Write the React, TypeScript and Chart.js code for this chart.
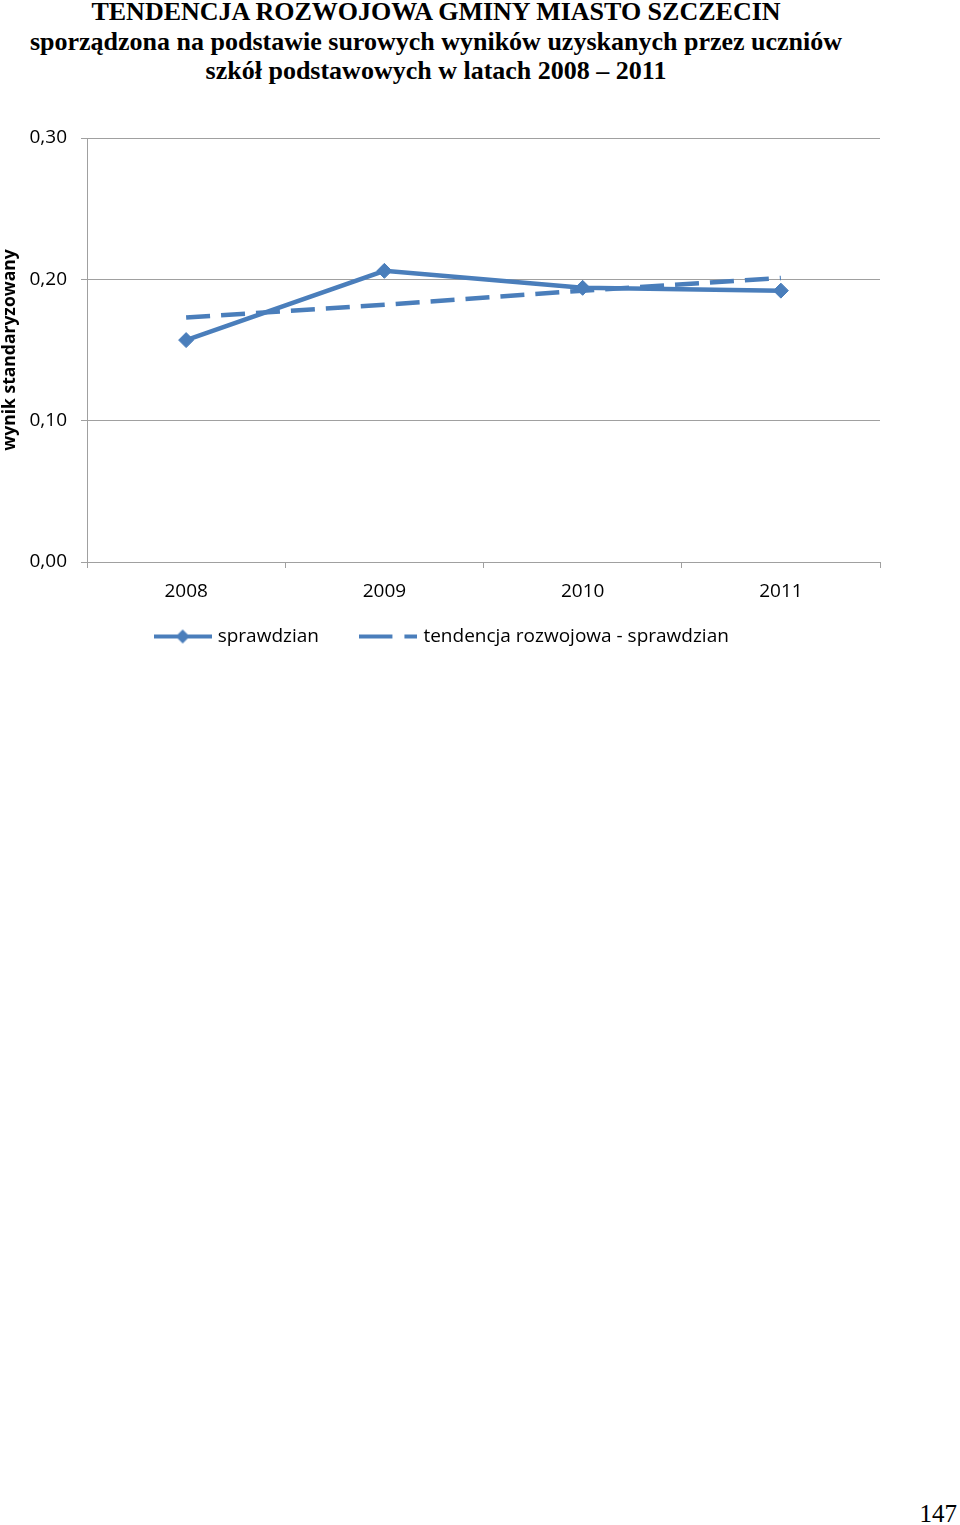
import React, { useEffect, useRef } from "react";
import { Chart, registerables } from "chart.js";

Chart.register(...registerables);

const titleLines = [
  "TENDENCJA ROZWOJOWA GMINY MIASTO SZCZECIN",
  "sporządzona na podstawie surowych wyników uzyskanych przez uczniów",
  "szkół podstawowych w latach 2008 – 2011",
];
const years = ["2008", "2009", "2010", "2011"];
const sprawdzian = [0.157, 0.206, 0.194, 0.192];
const tendencja = [0.173, 0.182, 0.192, 0.201];
const seriesLabels = ["sprawdzian", "tendencja rozwojowa - sprawdzian"];
const yAxisTitle = "wynik standaryzowany";
const yMin = 0;
const yMax = 0.3;
const yStep = 0.1;
const pageNumber = "147";

const BLUE = "#4a7ebb";
const GRID = "#a0a0a0";
const FONT = "'Open Sans', sans-serif";
const FS = 19;
const LEGEND_SHIFT = 29;

function makeLegendIcon(kind: "solid" | "dashed"): HTMLCanvasElement {
  const c = document.createElement("canvas");
  c.width = 58;
  c.height = 18;
  const ctx = c.getContext("2d")!;
  ctx.strokeStyle = BLUE;
  ctx.lineWidth = 4;
  ctx.beginPath();
  if (kind === "dashed") ctx.setLineDash([33, 12]);
  ctx.moveTo(0, 9);
  ctx.lineTo(58, 9);
  ctx.stroke();
  if (kind === "solid") {
    ctx.fillStyle = BLUE;
    ctx.beginPath();
    ctx.moveTo(29, 2);
    ctx.lineTo(36, 9);
    ctx.lineTo(29, 16);
    ctx.lineTo(22, 9);
    ctx.closePath();
    ctx.fill();
  }
  return c;
}

const legendLift = {
  id: "legendLift",
  afterLayout(chart: any) {
    const lg = chart.legend;
    if (lg) {
      lg.top -= LEGEND_SHIFT;
      lg.bottom -= LEGEND_SHIFT;
      lg.left += 3;
      lg.right += 3;
    }
  },
};

export default function App() {
  const ref = useRef<HTMLCanvasElement | null>(null);

  useEffect(() => {
    if (!ref.current) return;
    const icons = [makeLegendIcon("solid"), makeLegendIcon("dashed")];
    const chart = new Chart(ref.current, {
      type: "line",
      data: {
        labels: years,
        datasets: [
          {
            label: seriesLabels[0],
            data: sprawdzian,
            borderColor: BLUE,
            backgroundColor: BLUE,
            borderWidth: 4.5,
            pointStyle: "rectRot",
            pointRadius: 7.5,
            pointBorderWidth: 1,
            pointBackgroundColor: BLUE,
            pointBorderColor: BLUE,
            tension: 0,
          },
          {
            label: seriesLabels[1],
            data: tendencja,
            borderColor: BLUE,
            backgroundColor: BLUE,
            borderWidth: 4.5,
            borderDash: [24, 11],
            pointRadius: 0,
            tension: 0,
          },
        ],
      },
      plugins: [legendLift],
      options: {
        animation: false,
        responsive: false,
        maintainAspectRatio: false,
        layout: { padding: { top: 38, right: 80, bottom: 5, left: 0 } },
        plugins: {
          title: { display: false },
          tooltip: { enabled: false },
          legend: {
            display: true,
            position: "bottom",
            labels: {
              usePointStyle: true,
              pointStyleWidth: 51,
              padding: 44,
              color: "#000",
              font: { family: FONT, size: FS },
              generateLabels: (ch: any) =>
                ch.data.datasets.map((ds: any, i: number) => ({
                  text: ds.label,
                  pointStyle: icons[i],
                  fillStyle: BLUE,
                  strokeStyle: BLUE,
                  lineWidth: 0,
                  hidden: false,
                  datasetIndex: i,
                  fontColor: "#000",
                })),
            },
          },
        },
        scales: {
          x: {
            type: "category",
            offset: true,
            afterFit: (scale: any) => {
              scale.height = 50;
            },
            grid: {
              offset: true,
              drawOnChartArea: false,
              drawTicks: true,
              tickLength: 6,
              color: GRID,
            },
            border: { display: true, color: GRID, width: 1 },
            ticks: {
              color: "#000",
              padding: 12,
              font: { family: FONT, size: FS },
            },
          },
          y: {
            min: yMin,
            max: yMax,
            afterFit: (scale: any) => {
              scale.width = 87;
            },
            ticks: {
              stepSize: yStep,
              color: "#000",
              padding: 14,
              font: { family: FONT, size: FS },
              callback: (v: any) => Number(v).toFixed(2).replace(".", ","),
            },
            grid: {
              color: GRID,
              tickLength: 6,
              drawTicks: true,
            },
            border: { display: true, color: GRID, width: 1 },
            title: {
              display: true,
              text: yAxisTitle,
              color: "#000",
              padding: { top: 0, bottom: 0 },
              font: { family: FONT, size: 17.5, weight: "bold" },
            },
          },
        },
      },
    } as any);
    return () => chart.destroy();
  }, []);

  return (
    <div
      style={{
        position: "absolute",
        left: 0,
        top: 0,
        width: 960,
        height: 1525,
        background: "#fff",
        overflow: "hidden",
      }}
    >
      <div
        style={{
          position: "absolute",
          left: 0,
          top: -3,
          width: 872,
          textAlign: "center",
          fontFamily: "'Liberation Serif', 'Times New Roman', serif",
          fontWeight: "bold",
          fontSize: 26,
          lineHeight: "29.5px",
          color: "#000",
        }}
      >
        {titleLines.map((t, i) => (
          <div key={i}>{t}</div>
        ))}
      </div>
      <canvas
        ref={ref}
        width={960}
        height={590}
        style={{ position: "absolute", left: 0, top: 100, width: 960, height: 590 }}
      />
      <div
        style={{
          position: "absolute",
          right: 3,
          top: 1500,
          fontFamily: "'Liberation Serif', 'Times New Roman', serif",
          fontSize: 25,
          color: "#000",
        }}
      >
        {pageNumber}
      </div>
    </div>
  );
}
